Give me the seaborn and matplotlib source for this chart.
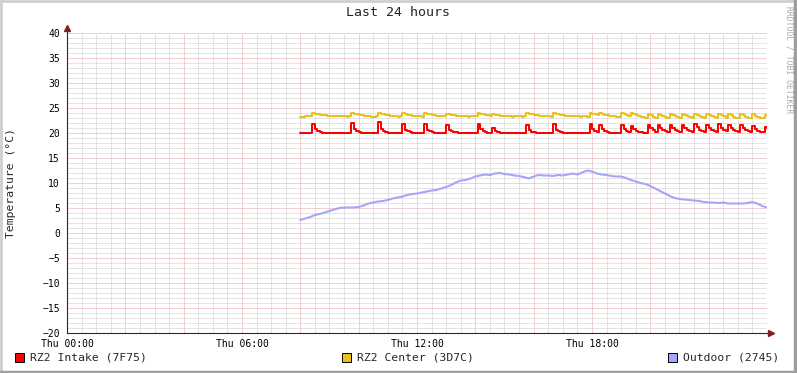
import numpy as np
import pandas as pd
import matplotlib
matplotlib.use("Agg")
import matplotlib.pyplot as plt
import seaborn as sns
from matplotlib.patches import Rectangle
from matplotlib.lines import Line2D

sns.set_style("white")
plt.rcParams["font.family"] = ["DejaVu Sans Mono", "DejaVu Sans"]

# Data. Intake/center every 5 min from Thu 08:00, one row per hour.
intake = [
    20.0, 20.0, 20.0, 20.0, 20.0, 21.9, 20.8, 20.4, 20.2, 20.1, 20.1, 20.0,
    20.0, 20.0, 20.1, 20.1, 20.0, 20.0, 20.0, 20.0, 20.0, 22.0, 20.8, 20.4,
    20.2, 20.1, 20.0, 20.0, 20.0, 20.0, 20.0, 20.0, 22.2, 20.9, 20.5, 20.2,
    20.1, 20.0, 20.0, 20.0, 20.0, 20.0, 21.8, 20.7, 20.4, 20.2, 20.1, 20.0,
    20.0, 20.0, 20.0, 21.9, 20.7, 20.4, 20.2, 20.1, 20.0, 20.0, 20.0, 20.0,
    21.7, 20.6, 20.4, 20.3, 20.2, 20.1, 20.1, 20.0, 20.0, 20.0, 20.0, 20.0,
    20.0, 21.9, 20.8, 20.4, 20.2, 20.1, 20.0, 21.0, 20.4, 20.2, 20.1, 20.0,
    20.0, 20.0, 20.0, 20.0, 20.0, 20.0, 20.0, 20.0, 20.0, 21.7, 20.6, 20.3,
    20.2, 20.1, 20.1, 20.0, 20.0, 20.0, 20.0, 20.0, 21.8, 20.7, 20.4, 20.2,
    20.1, 20.0, 20.0, 20.0, 20.0, 20.0, 20.0, 20.0, 20.0, 20.0, 20.0, 21.9,
    20.8, 20.4, 20.3, 21.7, 20.8, 20.4, 20.2, 20.1, 20.1, 20.0, 20.0, 20.0,
    21.6, 20.8, 20.4, 20.3, 21.5, 20.9, 20.5, 20.3, 20.2, 20.1, 20.1, 21.6,
    21.0, 20.6, 20.3, 21.7, 21.1, 20.7, 20.4, 20.3, 21.6, 21.0, 20.6, 20.4,
    20.3, 21.7, 21.1, 20.7, 20.4, 20.3, 21.8, 21.2, 20.7, 20.4, 20.3, 21.7,
    21.1, 20.6, 20.4, 20.3, 21.8, 21.1, 20.6, 20.4, 21.6, 21.0, 20.6, 20.4,
    20.3, 21.6, 21.0, 20.6, 20.4, 20.3, 21.5, 20.9, 20.5, 20.3, 20.2, 21.2,
    21.0,
]
center = [
    23.3, 23.3, 23.4, 23.4, 23.4, 24.1, 23.9, 23.8, 23.7, 23.6, 23.6, 23.5,
    23.5, 23.5, 23.4, 23.4, 23.5, 23.4, 23.4, 23.3, 23.4, 24.0, 23.9, 23.8,
    23.7, 23.6, 23.5, 23.5, 23.4, 23.3, 23.3, 23.4, 24.1, 23.9, 23.8, 23.7,
    23.6, 23.5, 23.4, 23.4, 23.3, 23.4, 24.0, 23.9, 23.7, 23.6, 23.5, 23.5,
    23.4, 23.4, 23.3, 24.0, 23.9, 23.8, 23.7, 23.6, 23.5, 23.5, 23.4, 23.4,
    23.9, 23.8, 23.7, 23.6, 23.5, 23.5, 23.4, 23.4, 23.4, 23.3, 23.4, 23.4,
    23.4, 24.0, 23.9, 23.8, 23.7, 23.6, 23.5, 23.8, 23.7, 23.6, 23.5, 23.5,
    23.4, 23.4, 23.4, 23.3, 23.4, 23.4, 23.4, 23.3, 23.4, 24.0, 23.9, 23.8,
    23.7, 23.6, 23.5, 23.5, 23.4, 23.4, 23.4, 23.3, 24.0, 23.9, 23.8, 23.7,
    23.6, 23.5, 23.5, 23.4, 23.4, 23.4, 23.4, 23.3, 23.4, 23.4, 23.3, 24.1,
    23.9, 23.8, 23.7, 24.0, 23.9, 23.7, 23.6, 23.5, 23.4, 23.4, 23.3, 23.3,
    24.0, 23.8, 23.6, 23.4, 24.0, 23.8, 23.6, 23.4, 23.3, 23.2, 23.1, 23.9,
    23.6, 23.3, 23.1, 23.9, 23.7, 23.4, 23.2, 23.0, 23.9, 23.6, 23.4, 23.2,
    23.0, 23.9, 23.6, 23.4, 23.2, 23.0, 23.9, 23.6, 23.4, 23.2, 23.0, 23.9,
    23.6, 23.4, 23.2, 23.0, 23.9, 23.6, 23.4, 23.1, 23.8, 23.6, 23.3, 23.1,
    23.0, 23.9, 23.6, 23.3, 23.1, 23.0, 23.8, 23.5, 23.3, 23.1, 23.0, 23.7,
    23.6,
]
# Outdoor every 10 min from Thu 08:00
outdoor = [
    2.6, 2.9, 3.2, 3.6, 3.8, 4.1, 4.4, 4.7, 5.0, 5.1, 5.1, 5.1,
    5.2, 5.5, 5.9, 6.1, 6.3, 6.4, 6.6, 6.9, 7.1, 7.3, 7.6, 7.8,
    7.9, 8.1, 8.3, 8.5, 8.6, 8.9, 9.2, 9.6, 10.1, 10.5, 10.6, 10.9,
    11.3, 11.5, 11.7, 11.6, 11.9, 12.0, 11.8, 11.7, 11.5, 11.4, 11.2, 10.9,
    11.3, 11.6, 11.5, 11.5, 11.4, 11.6, 11.5, 11.7, 11.9, 11.7, 12.1, 12.5,
    12.3, 11.9, 11.7, 11.6, 11.4, 11.3, 11.3, 11.0, 10.6, 10.3, 10.0, 9.8,
    9.4, 8.9, 8.4, 7.9, 7.4, 7.0, 6.8, 6.7, 6.6, 6.5, 6.4, 6.2,
    6.1, 6.1, 6.0, 6.1, 5.9, 5.9, 5.9, 5.9, 6.0, 6.2, 5.9, 5.4,
    5.1,
]
series_names = ["RZ2 Intake (7F75)", "RZ2 Center (3D7C)", "Outdoor (2745)"]
series_colors = ["#FF0000", "#E8C21C", "#A6A6F6"]
tick_hours = [0, 6, 12, 18]
tick_labels = ["Thu 00:00", "Thu 06:00", "Thu 12:00", "Thu 18:00"]

t5 = 8 + np.arange(len(intake)) * 5 / 60
t10 = 8 + np.arange(len(outdoor)) * 10 / 60
df_rz = pd.concat([
    pd.DataFrame({"hour": t5, "temp": intake, "sensor": series_names[0]}),
    pd.DataFrame({"hour": t5, "temp": center, "sensor": series_names[1]}),
])
df_out = pd.DataFrame({"hour": t10, "temp": outdoor})

fig = plt.figure(figsize=(7.97, 3.73), dpi=100)
fig.patch.set_facecolor("white")
ax = fig.add_axes([67 / 797, 40 / 373, 700 / 797, 300 / 373])

sns.lineplot(data=df_out, x="hour", y="temp", color=series_colors[2], linewidth=1.5, ax=ax)
sns.lineplot(data=df_rz, x="hour", y="temp", hue="sensor", palette=series_colors[:2],
             hue_order=series_names[:2], linewidth=1.45, drawstyle="steps-post",
             legend=False, ax=ax)

ax.set_xlim(0, 24)
ax.set_ylim(-20, 40)

# dotted grid
ax.set_xticks(np.arange(0, 24, 2))
ax.set_xticklabels([tick_labels[tick_hours.index(h)] if h in tick_hours else "" for h in range(0, 24, 2)])
ax.set_xticks(np.arange(0, 24, 0.5), minor=True)
ax.set_yticks(np.arange(-20, 41, 5))
ax.set_yticks(np.arange(-20, 41, 1), minor=True)
ax.grid(which="minor", color="#cacaca", linestyle=(0, (1, 1)), linewidth=0.72)
ax.grid(which="major", color="#e8a2a2", linestyle=(0, (1, 1)), linewidth=0.72)
ax.set_axisbelow(True)
ax.tick_params(which="both", labelsize=7, colors="#555555", labelcolor="black", width=0.7)
ax.tick_params(axis="x", which="major", length=3, pad=1)
ax.tick_params(axis="x", which="minor", length=2)
ax.tick_params(axis="y", which="major", length=3, pad=2)
ax.tick_params(axis="y", which="minor", length=0)
ax.set_xlabel("")
ax.set_ylabel("")

for s in ["top", "right"]:
    ax.spines[s].set_visible(False)
for s in ["left", "bottom"]:
    ax.spines[s].set_color("#2a2a2a")
    ax.spines[s].set_linewidth(0.8)

# rrd-style axis arrows
ax.plot([24, 24.15], [-20, -20], color="#2a2a2a", lw=0.8, clip_on=False)
ax.plot([24.15], [-20], marker=">", color="#801F1F", markersize=4, clip_on=False)
ax.plot([0, 0], [40, 41.0], color="#2a2a2a", lw=0.8, clip_on=False)
ax.plot([0], [41.0], marker="^", color="#801F1F", markersize=4, clip_on=False)

fig.text(0.5, 1 - 13 / 373, "Last 24 hours", ha="center", va="center", fontsize=9.5)
fig.text(11 / 797, 1 - 183 / 373, "Temperature (°C)", rotation=90, ha="center", va="center", fontsize=8.2)
fig.text(789 / 797, 1 - 60 / 373, "RRDTOOL / TOBI OETIKER", rotation=270, ha="center", va="center",
         fontsize=5.8, color="#a8a8a8")

# legend
legend_x = [15, 342, 668]
for lx, name, col in zip(legend_x, series_names, series_colors):
    fig.patches.append(Rectangle((lx / 797, 1 - 362 / 373), 9 / 797, 9 / 373, transform=fig.transFigure,
                                 facecolor=col, edgecolor="black", linewidth=0.7))
    fig.text((lx + 15) / 797, 1 - 358 / 373, name, ha="left", va="center", fontsize=8.2)

# frame shading
fig.lines.append(Line2D([0, 1], [0.998, 0.998], transform=fig.transFigure, color="#cfcfcf", lw=2))
fig.lines.append(Line2D([0.001, 0.001], [0, 1], transform=fig.transFigure, color="#cfcfcf", lw=2))
fig.lines.append(Line2D([0, 1], [0.003, 0.003], transform=fig.transFigure, color="#9e9e9e", lw=2.5))
fig.lines.append(Line2D([0.998, 0.998], [0, 1], transform=fig.transFigure, color="#9e9e9e", lw=2.5))

fig.savefig("out.png", dpi=100)
